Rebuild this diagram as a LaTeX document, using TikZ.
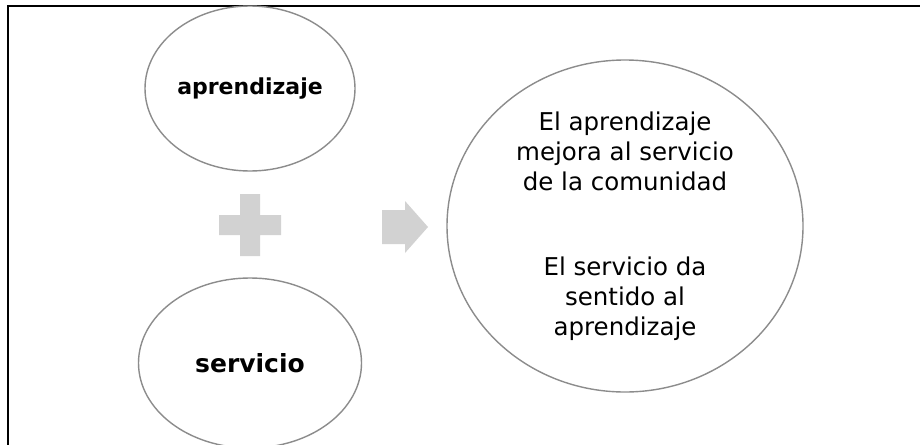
\documentclass[tikz,border=0pt]{standalone}
\usepackage{fontspec}
\setmainfont{DejaVu Sans}
\usetikzlibrary{shapes.geometric,calc}
\definecolor{ringgray}{RGB}{140,140,140}
\definecolor{symgray}{RGB}{210,210,210}
\tikzset{
  ring/.style={draw=ringgray, line width=1.4pt, ellipse, inner sep=0pt, fill=white},
  sym/.style={fill=symgray, draw=none}
}
\begin{document}
\begin{tikzpicture}[x=1pt,y=-1pt]
\clip (0,0) rectangle (920,444);
\fill[white] (0,0) rectangle (920,444);
\draw[line width=2pt] (8,6) rectangle (940,460);
\node[ring, minimum width=210pt, minimum height=165pt, font=\bfseries\fontsize{22}{27}\selectfont] (apr) at (250,88.5) {aprendizaje};
\node[ring, minimum width=223pt, minimum height=170pt, font=\bfseries\fontsize{25}{32}\selectfont] (ser) at (250,363) {servicio};
\node[ring, minimum width=356pt, minimum height=332pt, align=center, font=\fontsize{24.5}{30}\selectfont] (res) at (625,226)
  {El aprendizaje\\mejora al servicio\\de la comunidad\\[55pt]El servicio da\\sentido al\\aprendizaje};
\coordinate (plus) at (250,225);
\fill[sym] ($(plus)+(-31,-10)$) -- ++(21,0) -- ++(0,-21) -- ++(20,0) -- ++(0,21) -- ++(21,0) -- ++(0,20) -- ++(-21,0) -- ++(0,21) -- ++(-20,0) -- ++(0,-21) -- ++(-21,0) -- cycle;
\coordinate (arr) at (382,227);
\fill[sym] ($(arr)+(0,-17)$) -- ++(23,0) -- ++(0,-9) -- ++(23,26) -- ++(-23,26) -- ++(0,-9) -- ++(-23,0) -- cycle;
\end{tikzpicture}
\end{document}
